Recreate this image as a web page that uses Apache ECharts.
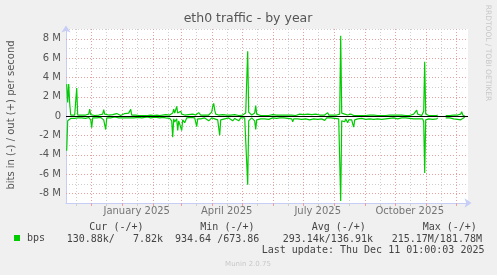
<!DOCTYPE html>
<html><head><meta charset="utf-8">
<script src="https://cdn.jsdelivr.net/npm/echarts@6/dist/echarts.min.js"></script>
<style>html,body{margin:0;padding:0;background:#f0f0f0;}#c{width:497px;height:275px;}</style>
</head><body><div id="c"></div>
<script>
// ---- data (days since 2024-11-06 UTC, values in Mbit/s) ----
const days = [1,2,3,4,5,7,9,10,11,12,14,16,18,20,22,23,24,25,26,27,29,31,33,35,37,38,39,40,41,43,45,47,49,51,53,55,57,59,61,63,65,66,68,70,73,76,79,82,85,88,89,91,94,97,100,102,104,106,107,108,109,110,111,112,113,114,115,116,117,118,119,121,123,125,127,129,130,131,132,133,135,137,139,141,143,145,146,147,148,149,150,151,152,153,154,155,157,159,161,163,165,167,169,171,173,175,177,179,180,181,182,183,184,186,188,189,190,191,193,195,197,199,201,203,205,207,209,211,212,214,216,218,220,222,224,226,227,228,230,232,234,236,238,240,242,244,246,248,250,252,254,256,259,261,262,263,265,267,269,271,273,274,275,276,277,278,279,280,281,282,283,284,285,286,287,288,289,290,292,294,296,298,300,302,304,306,308,310,312,314,316,318,320,322,324,326,328,330,332,334,336,338,340,342,344,346,348,350,351,352,354,356,357,358,359,360,361,363,365,367,369,371,372,373,379,380,382,384,386,388,390,392,394,395,396,397,399];
const inMbps = [3.6,0.5,0.3,0.3,0.25,0.2,0.25,0.2,0.3,0.2,0.25,0.2,0.15,0.25,0.2,0.15,0.3,0.4,1.2,0.2,0.15,0.2,0.25,0.15,0.2,0.4,0.5,1.4,0.2,0.15,0.2,0.15,0.1,0.15,0.2,0.15,0.2,0.1,0.2,0.15,0.2,0.3,0.2,0.15,0.15,0.2,0.15,0.1,0.2,0.15,0.35,0.15,0.2,0.15,0.2,0.3,0.25,0.5,2.2,0.3,0.6,0.4,0.3,1.5,0.5,0.3,0.4,1.5,0.4,0.3,0.7,0.2,0.3,0.15,0.3,0.2,0.4,1.1,0.3,0.2,0.3,0.4,0.2,0.3,0.5,0.3,0.2,0.3,0.2,0.3,0.5,0.3,0.4,0.6,2.0,0.4,0.2,0.3,0.4,0.2,0.3,0.5,0.25,0.3,0.5,0.2,0.35,0.2,0.3,0.4,7.1,0.5,0.3,0.2,0.3,0.5,1.4,0.4,0.2,0.3,0.25,0.3,0.2,0.35,0.25,0.2,0.3,0.25,0.45,0.2,0.3,0.2,0.35,0.25,0.2,0.3,0.6,0.3,0.2,0.3,0.2,0.35,0.2,0.3,0.25,0.4,0.2,0.3,0.25,0.35,0.2,0.3,0.45,0.2,0.25,0.3,0.2,0.3,0.25,0.2,0.3,0.5,8.8,0.5,0.7,0.4,0.6,0.3,0.5,0.7,0.4,0.3,0.6,0.4,0.8,1.15,0.4,0.2,0.3,0.2,0.25,0.2,0.35,0.2,0.3,0.2,0.35,0.2,0.3,0.25,0.35,0.2,0.3,0.2,0.25,0.3,0.2,0.35,0.3,0.45,0.2,0.3,0.2,0.3,0.25,0.2,0.3,0.4,0.3,0.2,0.3,0.2,0.3,0.6,5.9,0.4,0.2,0.3,0.2,0.35,0.25,0.3,0.2,null,null,0.2,0.3,0.2,0.25,0.3,0.2,0.35,0.3,0.4,0.6,0.3,0.13088];
const outMbps = [3.3,1.4,3.3,1.3,0.1,0.05,0.1,0.1,2.9,0.1,0.05,0.1,0.05,0.1,0.1,0.2,0.7,0.15,0.1,0.1,0.05,0.15,0.1,0.1,0.2,0.65,0.2,0.1,0.05,0.1,0.05,0.15,0.2,0.25,0.1,0.05,0.1,0.25,0.15,0.3,0.7,0.1,0.05,0.1,0.05,0.05,0.05,0.05,0.1,0.05,0.05,0.1,0.05,0.1,0.15,0.2,0.1,0.2,0.3,0.7,0.3,0.2,1.0,0.3,0.4,0.2,0.5,0.2,0.3,0.2,0.1,0.2,0.15,0.1,0.2,0.1,0.1,0.05,0.1,0.35,0.1,0.05,0.1,0.2,0.1,0.05,0.4,1.0,1.3,0.6,0.2,0.1,0.05,0.1,0.1,0.1,0.15,0.2,0.1,0.25,0.1,0.05,0.15,0.1,0.05,0.2,0.1,0.15,0.3,0.5,6.7,0.4,0.2,0.1,0.2,0.3,1.07,0.2,0.1,0.05,0.1,0.05,0.1,0.05,0.1,0.15,0.05,0.1,0.05,0.1,0.05,0.1,0.05,0.1,0.05,0.1,0.05,0.1,0.05,0.1,0.2,0.1,0.15,0.1,0.2,0.1,0.15,0.1,0.2,0.1,0.1,0.05,0.1,0.15,0.35,0.1,0.05,0.1,0.05,0.1,0.05,0.2,8.3,0.3,0.1,0.35,0.2,0.1,0.35,0.1,0.3,0.1,0.2,0.35,0.1,0.05,0.1,0.15,0.05,0.1,0.05,0.1,0.05,0.1,0.1,0.05,0.1,0.15,0.05,0.1,0.05,0.1,0.05,0.15,0.1,0.05,0.1,0.05,0.1,0.05,0.1,0.15,0.05,0.1,0.05,0.1,0.2,0.3,0.6,0.2,0.1,0.05,0.1,0.5,5.6,0.2,0.1,0.05,0.1,0.05,0.1,0.05,0.1,null,null,0.05,0.1,0.05,0.2,0.1,0.05,0.1,0.15,0.2,0.45,0.1,0.00782];
const yTicks = [-9,-8,-7,-6,-5,-4,-3,-2,-1,0,1,2,3,4,5,6,7,8,9];
const xLabelTexts = ['January 2025','April 2025','July 2025','October 2025'];
const xLabelDates = [[2025,0,16],[2025,3,16],[2025,6,16],[2025,9,16]];
const monthStartDates = [[2024,11,1],[2025,0,1],[2025,1,1],[2025,2,1],[2025,3,1],[2025,4,1],[2025,5,1],[2025,6,1],[2025,7,1],[2025,8,1],[2025,9,1],[2025,10,1],[2025,11,1]];
const midMonthDates = [[2024,10,16],[2024,11,16],[2025,0,16],[2025,1,16],[2025,2,16],[2025,3,16],[2025,4,16],[2025,5,16],[2025,6,16],[2025,7,16],[2025,8,16],[2025,9,16],[2025,10,16]];
const statHeaders = ['Cur (-/+)','Min (-/+)','Avg (-/+)','Max (-/+)'];
const statCells = ['130.88k/   7.82k','934.64 /673.86','293.14k/136.91k','215.17M/181.78M'];
const titleText = 'eth0 traffic - by year';
const yName = 'bits in (-) / out (+) per second';
const lastUpdate = 'Last update: Thu Dec 11 01:00:03 2025';
const footer = 'Munin 2.0.75';
const sideText = 'RRDTOOL / TOBI OETIKER';

// ---- chart ----
const DAY = 86400000;
const t0 = Date.UTC(2024,10,6);
const toDay = a => (Date.UTC(a[0],a[1],a[2]) - t0) / DAY;
const xMin = 0.3, xMax = 402.3;
const labelDays = xLabelDates.map(toDay);
const monthDays = monthStartDates.map(toDay);
const midDays = midMonthDates.map(toDay).filter(d => d < xMax);
const GREEN = '#00cc00', RED = '#e9a0a0', GRAY = '#cfcfcf', AXIS = '#c6cdf6';
const inData = days.map((d,i)=>[d, inMbps[i]==null?null:-inMbps[i]]);
const outData = days.map((d,i)=>[d, outMbps[i]==null?null:outMbps[i]]);
// grid items: [x, y, kind] kind 0=h gray, 1=h red, 2=v gray, 3=v red, 4=red tick, 5=gray tick, 6=zero rule
const gridItems = []
  .concat(yTicks.filter(v => v !== yTicks[0] && v !== 0).map(v => [xMin, v, v % 2 === 0 ? 1 : 0]))
  .concat(midDays.map(d => [d, 0, 2]))
  .concat(monthDays.map(d => [d, 0, 3]))
  .concat(monthDays.map(d => [d, 0, 4]))
  .concat(midDays.map(d => [d, 0, 5]));
function renderGrid(params, api) {
  const cs = params.coordSys;
  const kind = api.value(2);
  const p = api.coord([api.value(0), api.value(1)]);
  let shape, color, dash = [1, 2];
  if (kind <= 1) {
    const y = Math.round(p[1]) + 0.5;
    shape = {x1: cs.x, y1: y, x2: cs.x + cs.width, y2: y};
    color = kind === 1 ? RED : GRAY;
  } else if (kind <= 3) {
    const x = Math.round(p[0]) + 0.5;
    shape = {x1: x, y1: cs.y, x2: x, y2: cs.y + cs.height};
    color = kind === 3 ? RED : GRAY;
  } else {
    const x = Math.round(p[0]) + 0.5;
    const yb = cs.y + cs.height;
    shape = {x1: x, y1: yb, x2: x, y2: yb + 3};
    color = kind === 4 ? RED : GRAY; dash = null;
  }
  return {type: 'line', shape: shape, style: {stroke: color, lineWidth: 1, lineDash: dash}, silent: true};
}
function renderZero(params, api) {
  const cs = params.coordSys;
  const p = api.coord([api.value(0), api.value(1)]);
  const y = Math.round(p[1]) + 0.5;
  return {type: 'line', shape: {x1: cs.x, y1: y, x2: cs.x + cs.width, y2: y}, style: {stroke: '#000', lineWidth: 1}, silent: true};
}
const chart = echarts.init(document.getElementById('c'), null, {renderer:'canvas'});
const mono = '10px "DejaVu Sans Mono"';
const headerX = [89.3,200.3,311.7,422.7];
const cellX = [66.7,175,282.7,391.7];
const T = (x,y,text,font,fill,align,rot) => ({type:'text', x:x, y:y, rotation:rot||0,
  style:{text:text, font:font, fill:fill, textAlign:align, verticalAlign:'middle', textVerticalAlign:'middle'}});
const graphic = [
  T(248,19,titleText,'12.5px "DejaVu Sans"','#555','center'),
  T(11,115,yName,'10px "DejaVu Sans"','#555','center',Math.PI/2),
  T(487.5,53,sideText,'7.5px "DejaVu Sans"','#c8c8c8','center',-Math.PI/2),
  T(261.7,250.5,lastUpdate,mono,'#444','left'),
  T(248,264.3,footer,'7px "DejaVu Sans"','#c8c8c8','center')
];
statHeaders.forEach((h,i)=>graphic.push(T(headerX[i],227.5,h,mono,'#444','left')));
statCells.forEach((h,i)=>graphic.push(T(cellX[i],239.3,h,mono,'#444','left')));

chart.setOption({
  animation:false,
  backgroundColor:'#f0f0f0',
  grid:{left:66, right:29, top:29, bottom:72, show:true, backgroundColor:'#ffffff', borderWidth:0},
  legend:{data:[{name:'bps', icon:'rect'}], left:14, top:233, padding:0, itemWidth:6, itemHeight:6,
    textStyle:{fontFamily:'DejaVu Sans Mono', fontSize:10, color:'#444', padding:[0,0,0,2]}},
  xAxis:[{type:'value', min:xMin, max:xMax,
    axisLine:{show:true, onZero:false, lineStyle:{color:AXIS, width:1}, symbol:['none','arrow'], symbolSize:[7,7], symbolOffset:[0,3.5]},
    axisTick:{show:false}, axisLabel:{show:false}, splitLine:{show:false}}],
  yAxis:{type:'value', min:yTicks[0], max:yTicks[yTicks.length-1], interval:1,
    axisLine:{show:true, onZero:false, lineStyle:{color:AXIS, width:1}, symbol:['none','arrow'], symbolSize:[7,7], symbolOffset:[0,3.5]},
    axisTick:{show:false},
    axisLabel:{margin:5, fontFamily:'DejaVu Sans', fontSize:10, color:'#555',
      formatter:function(v){ if (Math.round(v)%2!==0) return ''; return v===0?'0':(v+' M'); }},
    splitLine:{show:false}},
  graphic:graphic,
  series:[
    {name:'grid', type:'custom', data:gridItems, renderItem:renderGrid, z:1, silent:true, clip:false},
    {name:'labels', type:'scatter', data:labelDays.map((d,i)=>[d, yTicks[0]]), symbolSize:0, z:1, silent:true,
      label:{show:true, position:'bottom', distance:3, formatter:p=>xLabelTexts[p.dataIndex],
        fontFamily:'DejaVu Sans', fontSize:10, color:'#555'}},
    {name:'bps', type:'line', data:inData, showSymbol:false, symbol:'none', z:3, connectNulls:false,
      lineStyle:{color:GREEN, width:1.2}, itemStyle:{color:GREEN}},
    {name:'bps', type:'line', data:outData, showSymbol:false, symbol:'none', z:3, connectNulls:false,
      lineStyle:{color:GREEN, width:1.2}, itemStyle:{color:GREEN}},
    {name:'zero', type:'custom', data:[[xMin,0]], renderItem:renderZero, z:5, silent:true}
  ]
});
</script></body></html>
